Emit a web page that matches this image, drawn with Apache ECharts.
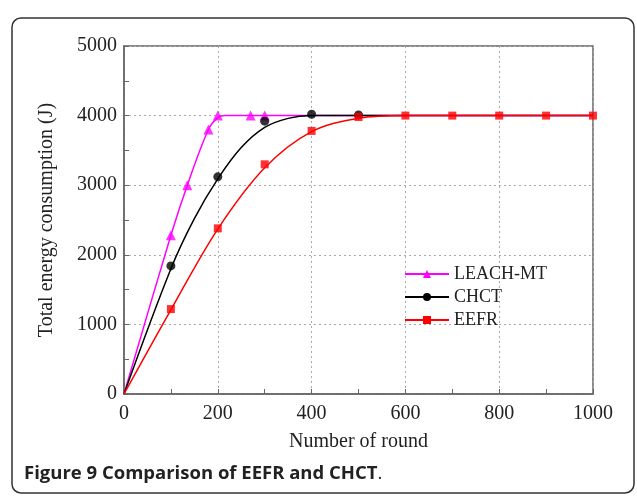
<!DOCTYPE html>
<html>
<head>
<meta charset="utf-8">
<script src="https://cdn.jsdelivr.net/npm/echarts@6/dist/echarts.min.js"></script>
<style>
html,body{margin:0;padding:0;background:#fff;}
#chart{width:637px;height:498px;}
</style>
</head>
<body>
<div id="chart"></div>
<script>
// Marker data
const leachRounds = [100, 135, 180, 200, 270, 300];
const leachValues = [2280, 3000, 3800, 4000, 4000, 4000];
const chctRounds = [100, 200, 300, 400, 500];
const chctValues = [1840, 3120, 3920, 4020, 4010];
const eefrRounds = [100, 200, 300, 400, 500, 600, 700, 800, 900, 1000];
const eefrValues = [1220, 2380, 3300, 3780, 3980, 4000, 4000, 4000, 4000, 4000];

// Fitted curve traces
const leachCurveRounds = [0, 100, 135, 180, 200, 215, 240, 1000];
const leachCurveValues = [0, 2280, 3000, 3800, 3970, 4000, 4000, 4000];
const chctCurveRounds = [0, 100, 150, 200, 250, 300, 350, 400, 450, 1000];
const chctCurveValues = [0, 1800, 2520, 3090, 3540, 3830, 3960, 4000, 4000, 4000];
const eefrCurveRounds = [0, 100, 200, 300, 400, 500, 600, 1000];
const eefrCurveValues = [0, 1210, 2370, 3250, 3770, 3960, 4000, 4000];

const xTicks = [0, 200, 400, 600, 800, 1000];
const yTicks = [0, 1000, 2000, 3000, 4000, 5000];

const names = ['LEACH-MT', 'CHCT', 'EEFR'];
const colors = ['#ff00ff', '#000000', '#ff0000'];
const symbols = ['triangle', 'circle', 'rect'];
const symbolSizes = [10, 9, 8];

function pairs(xs, ys) { return xs.map((x, i) => [x, ys[i]]); }

const curves = [
  pairs(leachCurveRounds, leachCurveValues),
  pairs(chctCurveRounds, chctCurveValues),
  pairs(eefrCurveRounds, eefrCurveValues)
];
const marks = [
  pairs(leachRounds, leachValues),
  pairs(chctRounds, chctValues),
  pairs(eefrRounds, eefrValues)
];

const series = [];
names.forEach((n, i) => {
  series.push({
    name: n,
    type: 'line',
    data: curves[i],
    smooth: 0.35,
    showSymbol: false,
    symbol: symbols[i],
    symbolSize: symbolSizes[i],
    itemStyle: { color: colors[i] },
    lineStyle: { color: colors[i], width: 1.5 },
    z: 2 + i * 2,
    silent: true
  });
  series.push({
    name: n + ' points',
    type: 'scatter',
    data: marks[i],
    symbol: symbols[i],
    symbolSize: symbolSizes[i],
    itemStyle: { color: colors[i] },
    z: 3 + i * 2,
    silent: true
  });
});

const serif = '"Liberation Serif", "Times New Roman", serif';
const chart = echarts.init(document.getElementById('chart'));
chart.setOption({
  animation: false,
  backgroundColor: '#fff',
  title: {
    text: '{b|Figure 9 Comparison of EEFR and CHCT}{n|.}',
    left: 19,
    top: 459,
    textStyle: {
      rich: {
        b: { fontFamily: '"Open Sans", "Noto Sans", sans-serif', fontWeight: 'bold', fontSize: 18.5, color: '#222' },
        n: { fontFamily: '"Open Sans", "Noto Sans", sans-serif', fontWeight: 'normal', fontSize: 18.5, color: '#222' }
      }
    }
  },
  graphic: [{
    type: 'rect',
    shape: { x: 12, y: 18, width: 622, height: 475, r: 9 },
    style: { fill: 'none', stroke: '#333', lineWidth: 1.5 },
    silent: true,
    z: -1
  }],
  grid: {
    left: 124, right: 44, top: 46, bottom: 104,
    show: true, borderColor: '#666', borderWidth: 1.5, backgroundColor: 'transparent'
  },
  legend: {
    data: names,
    orient: 'vertical',
    left: 399,
    top: 260,
    itemWidth: 44,
    itemHeight: 10,
    itemGap: 5,
    textStyle: { fontFamily: serif, fontSize: 18, color: '#222' }
  },
  xAxis: {
    type: 'value',
    min: 0, max: 1000, interval: 200,
    name: 'Number of round',
    nameLocation: 'middle',
    nameGap: 38,
    nameTextStyle: { fontFamily: serif, fontSize: 20, color: '#222' },
    axisLine: { lineStyle: { color: '#666', width: 1.5 } },
    axisTick: { inside: true, length: 5, lineStyle: { color: '#666' } },
    minorTick: { show: true, splitNumber: 2, length: 5, lineStyle: { color: '#666' } },
    axisLabel: { fontFamily: serif, fontSize: 20, color: '#222', margin: 10,
      formatter: v => xTicks.includes(v) ? String(v) : '' },
    splitLine: { show: true, lineStyle: { color: '#aaa', type: [2, 3], width: 1 } }
  },
  yAxis: {
    type: 'value',
    min: 0, max: 5000, interval: 1000,
    name: 'Total energy consumption (J)',
    nameLocation: 'middle',
    nameGap: 67,
    nameTextStyle: { fontFamily: serif, fontSize: 20, color: '#222' },
    axisLine: { lineStyle: { color: '#666', width: 1.5 } },
    axisTick: { inside: true, length: 5, lineStyle: { color: '#666' } },
    minorTick: { show: true, splitNumber: 2, length: 5, lineStyle: { color: '#666' } },
    axisLabel: { fontFamily: serif, fontSize: 20, color: '#222', margin: 7,
      formatter: v => yTicks.includes(v) ? String(v) : '' },
    splitLine: { show: true, lineStyle: { color: '#aaa', type: [2, 3], width: 1 } }
  },
  series: series
});
</script>
</body>
</html>
